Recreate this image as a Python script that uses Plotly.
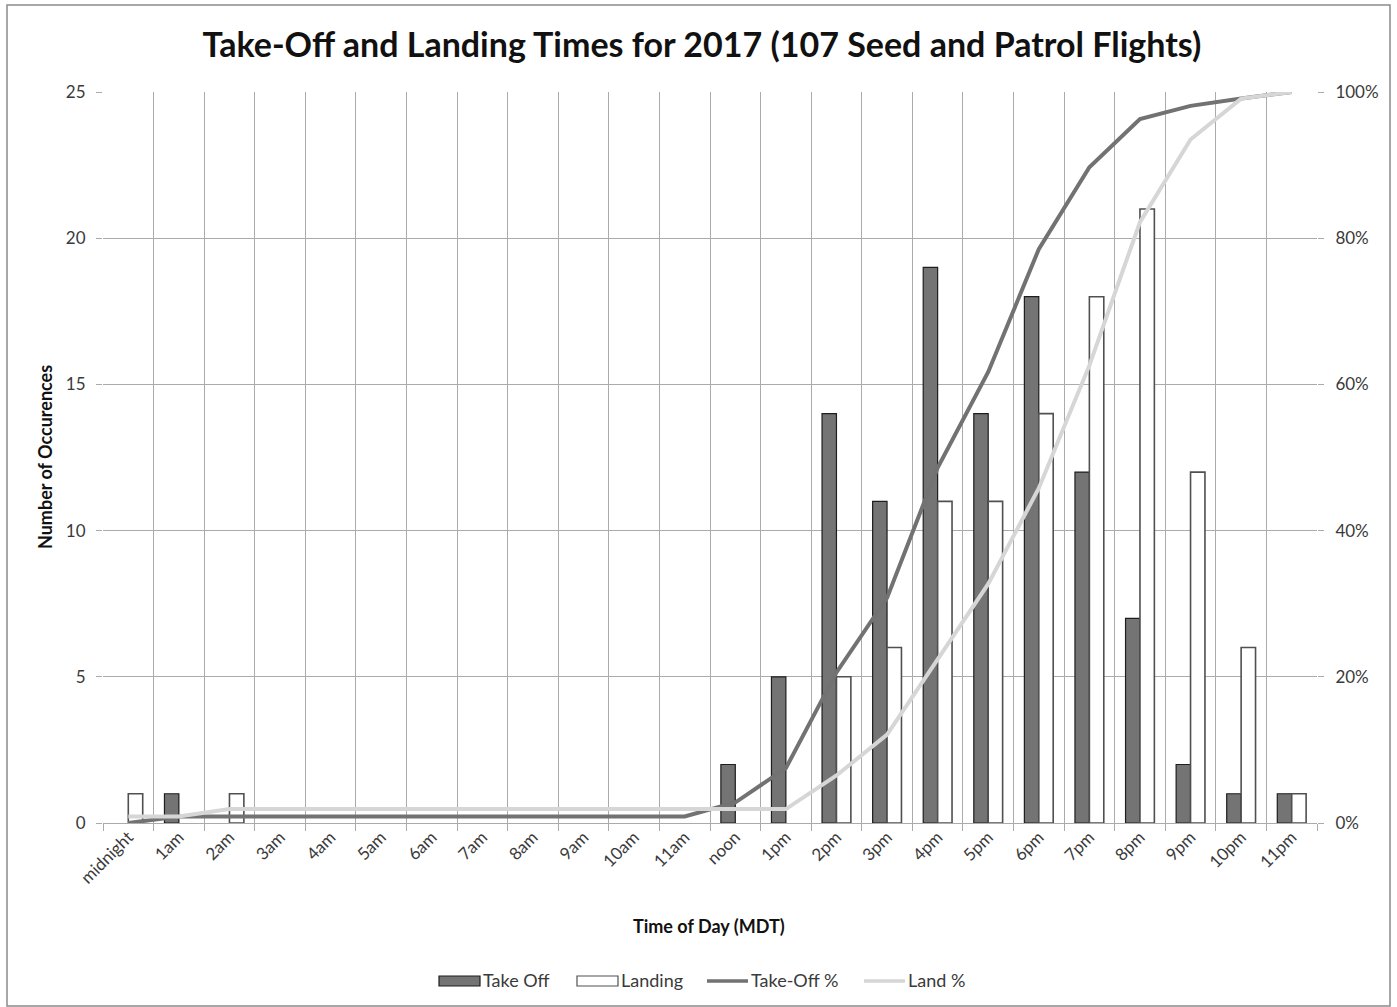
import plotly.graph_objects as go

hours = ["midnight", "1am", "2am", "3am", "4am", "5am", "6am", "7am", "8am", "9am",
         "10am", "11am", "noon", "1pm", "2pm", "3pm", "4pm", "5pm", "6pm", "7pm",
         "8pm", "9pm", "10pm", "11pm"]

take_off = [0, 1, 0, 0, 0, 0, 0, 0, 0, 0, 0, 0, 2, 5, 14, 11, 19, 14, 18, 12, 7, 2, 1, 1]
landing = [1, 0, 1, 0, 0, 0, 0, 0, 0, 0, 0, 0, 0, 0, 5, 6, 11, 11, 14, 18, 21, 12, 6, 1]

# cumulative shares (fraction of the 107 flights)
take_off_pct = [0.000, 0.009, 0.009, 0.009, 0.009, 0.009, 0.009, 0.009, 0.009, 0.009,
                0.009, 0.009, 0.028, 0.075, 0.206, 0.308, 0.486, 0.617, 0.785, 0.897,
                0.963, 0.981, 0.991, 1.000]
land_pct = [0.009, 0.009, 0.019, 0.019, 0.019, 0.019, 0.019, 0.019, 0.019, 0.019,
            0.019, 0.019, 0.019, 0.019, 0.065, 0.121, 0.224, 0.327, 0.458, 0.626,
            0.822, 0.935, 0.991, 1.000]

left_ticks = [0, 5, 10, 15, 20, 25]
right_ticks = [0, 0.2, 0.4, 0.6, 0.8, 1.0]

FONT = "Lato"
GRID = "#ababab"
TXT = "#3a3a3a"

TAKEOFF_FILL, TAKEOFF_EDGE = "#747474", "#1e1e1e"
LANDING_FILL, LANDING_EDGE = "#ffffff", "#505050"
TAKEOFF_LINE, LAND_LINE = "#727272", "#d6d6d6"

W, H = 1397, 1007
L, R, T, B = 103, 80, 92, 184
PW, PH = W - L - R, H - T - B


def px_x(x):
    return (x - L) / PW


def px_y(y):
    return (H - B - y) / PH


fig = go.Figure()
# empty hours get no outline so nothing shows on the baseline
fig.add_trace(go.Bar(
    x=hours, y=take_off, name="Take Off",
    marker=dict(color=TAKEOFF_FILL,
                line=dict(color=TAKEOFF_EDGE, width=[1.2 if v else 0 for v in take_off])),
))
fig.add_trace(go.Bar(
    x=hours, y=landing, name="Landing",
    marker=dict(color=LANDING_FILL,
                line=dict(color=LANDING_EDGE, width=[1.6 if v else 0 for v in landing])),
))
fig.add_trace(go.Scatter(
    x=hours, y=take_off_pct, name="Take-Off %", yaxis="y2", mode="lines",
    line=dict(color=TAKEOFF_LINE, width=4),
))
fig.add_trace(go.Scatter(
    x=hours, y=land_pct, name="Land %", yaxis="y2", mode="lines",
    line=dict(color=LAND_LINE, width=4),
))

# legend row drawn as keys + labels, laid out left to right
legend_items = [
    ("Take Off", "box", TAKEOFF_FILL, TAKEOFF_EDGE, 439),
    ("Landing", "box", LANDING_FILL, LANDING_EDGE, 577),
    ("Take-Off %", "line", TAKEOFF_LINE, None, 707),
    ("Land %", "line", LAND_LINE, None, 864),
]
KEY_W = 41
LEG_Y = 981
legend_shapes, legend_notes = [], []
for label, kind, color, edge, x0 in legend_items:
    if kind == "box":
        legend_shapes.append(dict(
            type="rect", xref="paper", yref="paper",
            x0=px_x(x0), x1=px_x(x0 + KEY_W), y0=px_y(LEG_Y + 5), y1=px_y(LEG_Y - 5),
            fillcolor=color, line=dict(color=edge, width=1.2),
        ))
    else:
        legend_shapes.append(dict(
            type="line", xref="paper", yref="paper",
            x0=px_x(x0), x1=px_x(x0 + KEY_W), y0=px_y(LEG_Y), y1=px_y(LEG_Y),
            line=dict(color=color, width=3.5),
        ))
    legend_notes.append(dict(
        text=label, xref="paper", yref="paper", x=px_x(x0 + KEY_W + 1), y=px_y(LEG_Y - 1),
        xanchor="left", yanchor="middle", showarrow=False,
        font=dict(size=18, color=TXT),
    ))

fig.update_layout(
    width=W, height=H,
    margin=dict(l=L, r=R, t=T, b=B, autoexpand=False),
    paper_bgcolor="white", plot_bgcolor="white",
    barmode="group", bargap=0.43, bargroupgap=0,
    font=dict(family=FONT, color=TXT, size=17),
    showlegend=False,
    title=dict(
        text="<b>Take-Off and Landing Times for 2017 (107 Seed and Patrol Flights)</b>",
        x=702 / W, xref="container", xanchor="center", y=1 - 45 / H, yanchor="middle",
        font=dict(family=FONT, size=34, color="#111111"),
    ),
    xaxis=dict(
        type="category", categoryorder="array", categoryarray=hours,
        tickson="boundaries", ticks="outside", ticklen=7, tickcolor=GRID,
        showgrid=True, gridcolor=GRID, gridwidth=1,
        tickangle=-45, tickfont=dict(size=17, color=TXT),
        title=dict(text=""), showline=False, automargin=False,
    ),
    yaxis=dict(
        range=[0, 25], tickvals=left_ticks, ticks="outside", ticklen=6, tickcolor=GRID,
        showgrid=True, gridcolor=GRID, gridwidth=1, zeroline=True, zerolinecolor=GRID,
        zerolinewidth=1, tickfont=dict(size=17, color=TXT), ticklabelstandoff=7,
        title=dict(text=""), showline=False, automargin=False,
    ),
    yaxis2=dict(
        range=[0, 1], tickvals=right_ticks, tickformat=".0%", overlaying="y", side="right",
        ticks="outside", ticklen=6, tickcolor=GRID, showgrid=False, zeroline=False,
        tickfont=dict(size=17, color=TXT), ticklabelstandoff=8,
        showline=False, automargin=False,
    ),
    annotations=[
        dict(text="<b>Time of Day (MDT)</b>", xref="paper", yref="paper",
             x=px_x(709), y=px_y(926), xanchor="center", yanchor="middle",
             showarrow=False, font=dict(size=18, color="#111111")),
        dict(text="<b>Number of Occurences</b>", xref="paper", yref="paper",
             x=px_x(45), y=px_y(457), xanchor="center", yanchor="middle",
             textangle=-90, showarrow=False, font=dict(size=18, color="#111111")),
    ] + legend_notes,
    shapes=[dict(
        type="rect", xref="paper", yref="paper", layer="below",
        x0=px_x(7), x1=px_x(1390), y0=px_y(1006), y1=px_y(5),
        line=dict(color="#8a8a8a", width=1.5),
    )] + legend_shapes,
)

fig.write_html("out.html")
